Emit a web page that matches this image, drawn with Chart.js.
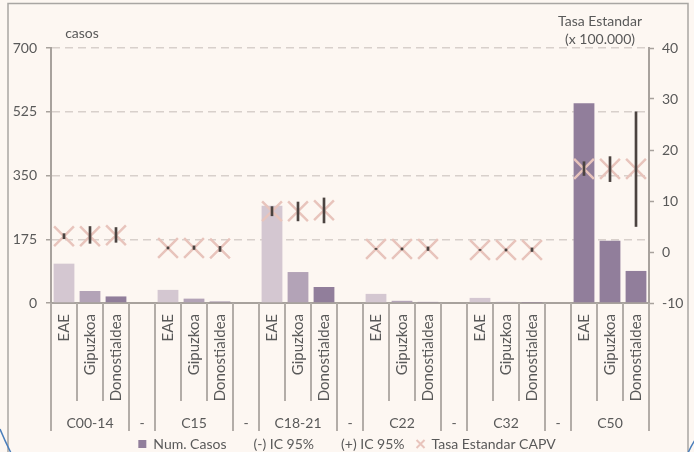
<!DOCTYPE html>
<html>
<head>
<meta charset="utf-8">
<script src="https://cdn.jsdelivr.net/npm/chart.js@4.4.1/dist/chart.umd.min.js"></script>
<style>
  html, body { margin: 0; padding: 0; background: #fdf7f2; }
  #wrap { width: 694px; height: 452px; position: relative; }
</style>
</head>
<body>
<div id="wrap"><canvas id="c" width="694" height="452"></canvas></div>
<script>
// ---- data ----
const groups = ['C00-14', 'C15', 'C18-21', 'C22', 'C32', 'C50'];
const areas = ['EAE', 'Gipuzkoa', 'Donostialdea'];
const gapLabel = '-';
// Num. casos (left axis)
const casos = [108, 33, 18, null, 36, 12, 4, null, 267, 85, 44, null, 25, 6, 3, null, 14, 3, 1, null, 548, 171, 88];
// Tasa Estandar CAPV (right axis)
const tasaCAPV = [3.1, 3.1, 3.3, null, 0.8, 0.8, 0.7, null, 8.0, 8.0, 8.2, null, 0.6, 0.6, 0.6, null, 0.4, 0.4, 0.4, null, 16.3, 16.3, 16.3];
// IC 95% lower / upper (right axis)
const icLow  = [2.6, 1.7, 1.9, null, 0.6, 0.5, 0.1, null, 7.1, 6.1, 5.7, null, 0.5, 0.4, 0.3, null, 0.3, 0.2, 0.0, null, 15.0, 13.8, 5.0];
const icHigh = [3.6, 5.0, 4.8, null, 1.0, 1.2, 1.1, null, 8.9, 9.8, 10.6, null, 0.7, 0.8, 1.0, null, 0.5, 0.6, 0.8, null, 17.7, 18.7, 27.5];
const leftTicks = [0, 175, 350, 525, 700];
const rightTicks = [-10, 0, 10, 20, 30, 40];

// ---- styles ----
const cLight = '#d4c7d1', cMed = '#b3a3b7', cDark = '#917e9b';
const barColors = [cLight, cMed, cDark, null, cLight, cMed, cDark, null, cLight, cMed, cDark, null,
                   cLight, cMed, cDark, null, cLight, cMed, cDark, null, cDark, cDark, cDark];
const textColor = '#595959';
const axisColor = '#a8a29d';
const FONT = 'Lato, "Open Sans", sans-serif';

// build categories
const inner = [], outer = [];
groups.forEach((g, gi) => {
  areas.forEach(a => { inner.push(a); outer.push(g); });
  if (gi < groups.length - 1) { inner.push(''); outer.push(gapLabel); }
});
const labels = inner.map((a, i) => outer[i] + '|' + a + '|' + i);
const icData = icLow.map((l, i) => (l == null ? null : [l, icHigh[i]]));

const bgPlugin = {
  id: 'bg',
  beforeDraw(chart) {
    const ctx = chart.ctx;
    ctx.save();
    ctx.fillStyle = '#fdf7f2';
    ctx.fillRect(0, 0, chart.width, chart.height);
    // frame
    ctx.strokeStyle = '#a9a6a3';
    ctx.lineWidth = 1.5;
    ctx.beginPath();
    ctx.moveTo(8, 460); ctx.lineTo(8, 3.5); ctx.lineTo(688, 3.5); ctx.lineTo(688, 460);
    ctx.stroke();
    // blue outer rounded corners
    ctx.strokeStyle = '#4a7ebb';
    ctx.lineWidth = 1.5;
    ctx.beginPath();
    ctx.moveTo(0, 429); ctx.quadraticCurveTo(5, 441, 11, 453);
    ctx.stroke();
    ctx.beginPath();
    ctx.moveTo(688, 453); ctx.quadraticCurveTo(691, 446, 695, 440);
    ctx.stroke();
    ctx.restore();
  },
  afterDraw(chart) {
    const ctx = chart.ctx;
    const x = chart.scales.x;
    const area = chart.chartArea;
    const bottom = area.bottom;
    ctx.save();
    // axis titles
    ctx.fillStyle = textColor;
    ctx.font = '14px ' + FONT;
    ctx.textAlign = 'center';
    ctx.textBaseline = 'middle';
    ctx.fillText('casos', 82, 33);
    ctx.fillText('Tasa Estandar', 600, 21);
    ctx.fillText('(x 100.000)', 600, 39.5);

    // category boundaries
    const n = labels.length;
    const bounds = [];
    for (let i = 0; i <= n; i++) {
      if (i === 0) bounds.push(area.left);
      else if (i === n) bounds.push(area.right);
      else bounds.push((x.getPixelForValue(i - 1) + x.getPixelForValue(i)) / 2);
    }
    ctx.strokeStyle = '#b3ada8';
    ctx.lineWidth = 2;
    for (let i = 0; i <= n; i++) {
      const groupEdge = i === 0 || i === n || outer[i] !== outer[i - 1];
      ctx.beginPath();
      ctx.moveTo(bounds[i], bottom);
      ctx.lineTo(bounds[i], bottom + (groupEdge ? 128 : 98));
      ctx.stroke();
    }
    // inner labels (rotated)
    ctx.fillStyle = textColor;
    ctx.font = '15px ' + FONT;
    for (let i = 0; i < n; i++) {
      if (!inner[i]) continue;
      const cx = x.getPixelForValue(i);
      ctx.save();
      ctx.translate(cx, bottom + 11);
      ctx.rotate(-Math.PI / 2);
      ctx.textAlign = 'right';
      ctx.textBaseline = 'middle';
      ctx.fillText(inner[i], 0, 0);
      ctx.restore();
    }
    // outer labels
    ctx.font = '14px ' + FONT;
    ctx.textAlign = 'center';
    ctx.textBaseline = 'middle';
    let s = 0;
    for (let i = 1; i <= n; i++) {
      if (i === n || outer[i] !== outer[i - 1]) {
        const cx = (bounds[s] + bounds[i]) / 2;
        ctx.fillText(outer[s], cx, bottom + 120);
        s = i;
      }
    }
    ctx.restore();
  }
};

new Chart(document.getElementById('c'), {
  data: {
    labels: labels,
    datasets: [
      {
        type: 'bar',
        label: '(-) IC 95% / (+) IC 95%',
        data: icData,
        yAxisID: 'y1',
        grouped: false,
        barThickness: 2,
        backgroundColor: '#4b4340',
        order: 0
      },
      {
        type: 'line',
        label: 'Tasa Estandar CAPV',
        data: tasaCAPV,
        yAxisID: 'y1',
        showLine: false,
        pointStyle: 'crossRot',
        pointRadius: 14,
        pointHoverRadius: 14,
        pointBorderWidth: 2.5,
        borderColor: '#e8c4bc',
        backgroundColor: '#e8c4bc',
        order: 1
      },
      {
        type: 'bar',
        label: 'Num. Casos',
        data: casos,
        yAxisID: 'y',
        grouped: false,
        barPercentage: 0.8,
        categoryPercentage: 1.0,
        backgroundColor: barColors,
        order: 2
      }
    ]
  },
  options: {
    responsive: false,
    animation: false,
    devicePixelRatio: 1,
    layout: { padding: { left: 0, right: 0, top: 48, bottom: -9 } },
    plugins: {
      tooltip: { enabled: false },
      title: { display: false },
      legend: {
        display: true,
        position: 'bottom',
        labels: {
          color: textColor,
          font: { family: FONT, size: 14 },
          usePointStyle: true,
          boxWidth: 8,
          boxHeight: 8,
          padding: 12,
          generateLabels() {
            return [
              { text: 'Num. Casos', fillStyle: cDark, strokeStyle: cDark, lineWidth: 0, pointStyle: 'rect', fontColor: textColor },
              { text: '(-) IC 95%', fillStyle: 'rgba(0,0,0,0)', strokeStyle: 'rgba(0,0,0,0)', lineWidth: 0, pointStyle: 'line', fontColor: textColor },
              { text: '(+) IC 95%', fillStyle: 'rgba(0,0,0,0)', strokeStyle: 'rgba(0,0,0,0)', lineWidth: 0, pointStyle: 'line', fontColor: textColor },
              { text: 'Tasa Estandar CAPV', fillStyle: '#e8c4bc', strokeStyle: '#e8c4bc', lineWidth: 2, pointStyle: 'crossRot', fontColor: textColor }
            ];
          }
        }
      }
    },
    scales: {
      x: {
        type: 'category',
        offset: true,
        grid: { display: false },
        border: { display: true, color: axisColor, width: 2 },
        ticks: { display: false },
        afterFit(scale) { scale.height = 122; }
      },
      y: {
        position: 'left',
        min: 0, max: 700,
        afterBuildTicks(scale) { scale.ticks = leftTicks.map(v => ({ value: v })); },
        ticks: { color: textColor, font: { family: FONT, size: 14 }, padding: 9 },
        grid: {
          color: c => (c.tick && c.tick.value === 0 ? 'rgba(0,0,0,0)' : '#d8d0cb'),
          lineWidth: 1.5,
          tickColor: axisColor,
          tickLength: 5,
          tickWidth: 1.5
        },
        border: { display: true, color: axisColor, width: 2, dash: [8, 5] },
        afterFit(scale) { scale.width = 51; }
      },
      y1: {
        position: 'right',
        min: -10, max: 40,
        afterBuildTicks(scale) { scale.ticks = rightTicks.map(v => ({ value: v })); },
        ticks: { color: textColor, font: { family: FONT, size: 14 }, padding: 8 },
        grid: { drawOnChartArea: false, tickColor: axisColor, tickLength: 5, tickWidth: 1.5 },
        border: { display: true, color: axisColor, width: 2 },
        afterFit(scale) { scale.width = 45; }
      }
    }
  },
  plugins: [bgPlugin]
});
</script>
</body>
</html>
